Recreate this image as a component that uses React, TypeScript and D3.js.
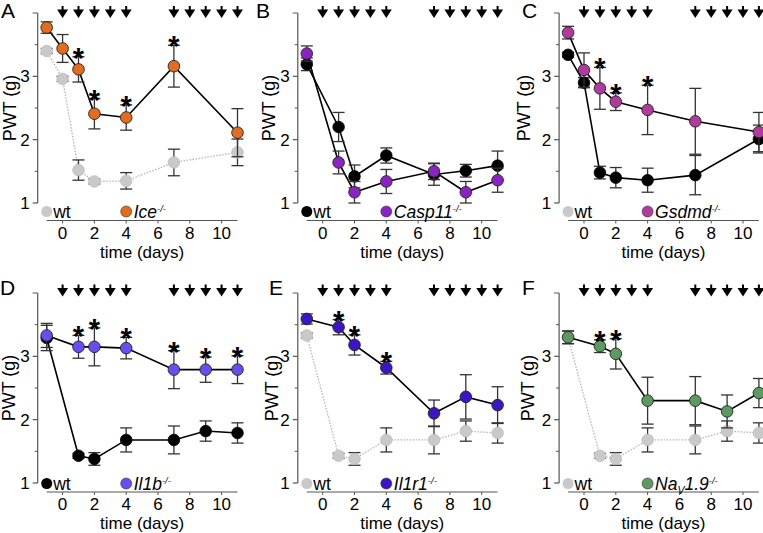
import React from 'react';
import * as d3 from 'd3';

const arrowDays = [0, 1, 2, 3, 4, 7, 8, 9, 10, 11];
const xTicks = [0, 2, 4, 6, 8, 10];
const yTicks = [1, 2, 3];
const yMinorTicks = [1.5, 2.5, 3.5, 4];

// Panel A
const daysA = [-1, 0, 1, 2, 4, 7, 11];
const wtA = [3.40, 2.96, 1.52, 1.34, 1.35, 1.64, 1.80];
const wtA_sem = [0.04, 0.04, 0.16, 0.04, 0.13, 0.21, 0.21];
const iceA = [3.77, 3.44, 3.11, 2.41, 2.35, 3.16, 2.11];
const iceA_sem = [0.09, 0.22, 0.20, 0.24, 0.20, 0.33, 0.38];
const starsA = [1, 2, 4, 7];

// Panel B
const daysB = [-1, 1, 2, 4, 7, 9, 11];
const wtB = [3.19, 2.20, 1.42, 1.75, 1.45, 1.51, 1.59];
const wtB_sem = [0.10, 0.23, 0.18, 0.12, 0.17, 0.10, 0.23];
const casp11B = [3.36, 1.64, 1.17, 1.34, 1.50, 1.17, 1.36];
const casp11B_sem = [0.12, 0.18, 0.17, 0.19, 0.13, 0.17, 0.19];
const starsB: number[] = [];

// Panel C
const daysC = [-1, 0, 1, 2, 4, 7, 11];
const wtC = [3.34, 2.90, 1.48, 1.40, 1.36, 1.44, 2.01];
const wtC_sem = [0.04, 0.08, 0.10, 0.16, 0.19, 0.31, 0.22];
const gsdmdC = [3.69, 3.10, 2.81, 2.60, 2.47, 2.29, 2.12];
const gsdmdC_sem = [0.10, 0.27, 0.33, 0.14, 0.39, 0.52, 0.31];
const starsC = [1, 2, 4];

// Panel D
const daysD = [-1, 1, 2, 4, 7, 9, 11];
const wtD = [3.29, 1.43, 1.38, 1.68, 1.68, 1.82, 1.79];
const wtD_sem = [0.20, 0.04, 0.10, 0.19, 0.22, 0.16, 0.16];
const il1bD = [3.33, 3.15, 3.15, 3.13, 2.79, 2.79, 2.79];
const il1bD_sem = [0.19, 0.18, 0.30, 0.17, 0.30, 0.20, 0.22];
const starsD = [1, 2, 4, 7, 9, 11];

// Panel E
const daysE = [-1, 1, 2, 4, 7, 9, 11];
const wtE = [3.33, 1.43, 1.38, 1.68, 1.68, 1.82, 1.79];
const wtE_sem = [0.04, 0.04, 0.10, 0.19, 0.22, 0.16, 0.16];
const il1r1E = [3.59, 3.46, 3.18, 2.82, 2.10, 2.36, 2.23];
const il1r1E_sem = [0.08, 0.12, 0.16, 0.10, 0.21, 0.35, 0.29];
const starsE = [1, 2, 4];

// Panel F
const daysF = [-1, 1, 2, 4, 7, 9, 11];
const wtF = [3.30, 1.43, 1.38, 1.68, 1.68, 1.82, 1.79];
const wtF_sem = [0.10, 0.04, 0.10, 0.19, 0.22, 0.16, 0.16];
const nav19F = [3.30, 3.16, 3.04, 2.30, 2.30, 2.13, 2.42];
const nav19F_sem = [0.10, 0.10, 0.24, 0.37, 0.38, 0.26, 0.23];
const starsF = [1, 2];

const FONT = "'Liberation Sans', Arial, Helvetica, sans-serif";
const GRAY = '#c9c9c9';

type Panel = {
  letter: string; col: number; row: number;
  days: number[]; wt: number[]; wtSem: number[]; ko: number[]; koSem: number[];
  stars: number[]; koColor: string; wtGray: boolean; wtLegendGray: boolean;
  koLabel: string;
};

const panels: Panel[] = [
  { letter: 'A', col: 0, row: 0, days: daysA, wt: wtA, wtSem: wtA_sem, ko: iceA, koSem: iceA_sem, stars: starsA, koColor: '#e36c1e', wtGray: true, wtLegendGray: true, koLabel: 'Ice' },
  { letter: 'B', col: 1, row: 0, days: daysB, wt: wtB, wtSem: wtB_sem, ko: casp11B, koSem: casp11B_sem, stars: starsB, koColor: '#8a22c4', wtGray: false, wtLegendGray: false, koLabel: 'Casp11' },
  { letter: 'C', col: 2, row: 0, days: daysC, wt: wtC, wtSem: wtC_sem, ko: gsdmdC, koSem: gsdmdC_sem, stars: starsC, koColor: '#b23a9f', wtGray: false, wtLegendGray: true, koLabel: 'Gsdmd' },
  { letter: 'D', col: 0, row: 1, days: daysD, wt: wtD, wtSem: wtD_sem, ko: il1bD, koSem: il1bD_sem, stars: starsD, koColor: '#6a4df0', wtGray: false, wtLegendGray: false, koLabel: 'Il1b' },
  { letter: 'E', col: 1, row: 1, days: daysE, wt: wtE, wtSem: wtE_sem, ko: il1r1E, koSem: il1r1E_sem, stars: starsE, koColor: '#3b15c6', wtGray: true, wtLegendGray: true, koLabel: 'Il1r1' },
  { letter: 'F', col: 2, row: 1, days: daysF, wt: wtF, wtSem: wtF_sem, ko: nav19F, koSem: nav19F_sem, stars: starsF, koColor: '#5b9a60', wtGray: true, wtLegendGray: true, koLabel: 'Nav' },
];

const colDay0 = [62.6, 322.7, 584];
const perDay = 15.9;
const rowGeom = [
  { yTop: 13, yBot: 203, axisY: 220.5, legendY: 211.5, tickLabelY: 233, titleY: 252, letterY: 18, arrowY: 6 },
  { yTop: 293, yBot: 483, axisY: 492, legendY: 483.5, tickLabelY: 504.5, titleY: 523, letterY: 295, arrowY: 284.5 },
];
const letterX = [[1, 256, 522], [0, 269, 522]];
const ylabX = [[10, 269, 524], [9, 272, 528]];

function KoLabel({ label, x, y }: { label: string; x: number; y: number }) {
  if (label === 'Nav') {
    return (
      <text x={x} y={y} fontFamily={FONT} fontSize={17.5} fontStyle="italic" dy="0.35em">
        Na<tspan fontSize={10.5} dy={4}>V</tspan><tspan dy={-4}>1.9</tspan><tspan fontSize={9.5} dy={-6}>-/-</tspan>
      </text>
    );
  }
  return (
    <text x={x} y={y} fontFamily={FONT} fontSize={17.5} fontStyle="italic" dy="0.35em">
      {label}<tspan fontSize={9.5} dy={-6}>-/-</tspan>
    </text>
  );
}

function PanelView({ p }: { p: Panel }) {
  const g = rowGeom[p.row];
  const d0 = colDay0[p.col];
  const x = d3.scaleLinear().domain([-1, 11]).range([d0 - perDay, d0 + 11 * perDay]);
  const y = d3.scaleLinear().domain([1, 4]).range([g.yBot, g.yTop]);
  const axX = x(-1) - 9;
  const line = d3.line<number>().x((_, i) => x(p.days[i])).y((v) => y(v));
  const wtFill = p.wtGray ? GRAY : '#000';
  const wtLine = p.wtGray ? '#b5b5b5' : '#000';
  const errColor = '#333';
  const R = 5.8;

  const errBars = (vals: number[], sems: number[], key: string) =>
    vals.map((v, i) => {
      const cx = x(p.days[i]);
      const y1 = y(v + sems[i]);
      const y2 = y(v - sems[i]);
      return (
        <g key={key + i} stroke={errColor} strokeWidth={1.3}>
          <line x1={cx} x2={cx} y1={y1} y2={y2} />
          <line x1={cx - 6} x2={cx + 6} y1={y1} y2={y1} />
          <line x1={cx - 6} x2={cx + 6} y1={y2} y2={y2} />
        </g>
      );
    });

  return (
    <g>
      <text x={letterX[p.row][p.col]} y={g.letterY} fontFamily={FONT} fontSize={21}>{p.letter}</text>
      {arrowDays.map((d) => {
        const ax = x(d);
        const ay = g.arrowY;
        return (
          <g key={'ar' + d}>
            <line x1={ax} x2={ax} y1={ay} y2={ay + 5} stroke="#000" strokeWidth={2} />
            <path d={`M${ax - 5.5},${ay + 3.5}L${ax + 5.5},${ay + 3.5}L${ax},${ay + 12}Z`} fill="#000" />
          </g>
        );
      })}
      {/* y axis */}
      <line x1={axX} x2={axX} y1={y(1)} y2={y(4)} stroke="#555" strokeWidth={1.2} />
      {yTicks.map((t) => (
        <g key={'yt' + t}>
          <line x1={axX - 5} x2={axX} y1={y(t)} y2={y(t)} stroke="#555" strokeWidth={1.2} />
          <text x={axX - 8} y={y(t)} dy="0.35em" textAnchor="end" fontFamily={FONT} fontSize={17}>{t}</text>
        </g>
      ))}
      {yMinorTicks.map((t) => (
        <line key={'ym' + t} x1={axX - (t === 4 ? 5 : 3)} x2={axX} y1={y(t)} y2={y(t)} stroke="#555" strokeWidth={1} />
      ))}
      <text transform={`translate(${ylabX[p.row][p.col]},${(g.yTop + g.yBot) / 2}) rotate(-90)`} textAnchor="middle" dy="0.35em" fontFamily={FONT} fontSize={18}>PWT (g)</text>
      {/* x axis */}
      <line x1={x(-1)} x2={x(11)} y1={g.axisY} y2={g.axisY} stroke="#555" strokeWidth={1.2} />
      {xTicks.map((t) => (
        <g key={'xt' + t}>
          <line x1={x(t)} x2={x(t)} y1={g.axisY} y2={g.axisY + 3} stroke="#555" strokeWidth={1} />
          <text x={x(t)} y={g.tickLabelY} dy="0.35em" textAnchor="middle" fontFamily={FONT} fontSize={17}>{t}</text>
        </g>
      ))}
      <text x={(x(-1) + x(11)) / 2} y={g.titleY} dy="0.35em" textAnchor="middle" fontFamily={FONT} fontSize={17}>time (days)</text>
      {/* legend */}
      <circle cx={x(-1)} cy={g.legendY} r={5.5} fill={p.wtLegendGray ? GRAY : '#000'} />
      <text x={x(-1) + 6.5} y={g.legendY} dy="0.35em" fontFamily={FONT} fontSize={17.5}>wt</text>
      <circle cx={x(4)} cy={g.legendY} r={5.5} fill={p.koColor} stroke="#333" strokeWidth={0.6} />
      <KoLabel label={p.koLabel} x={x(4) + 7.5} y={g.legendY} />
      {/* wt series */}
      <path d={line(p.wt) || ''} fill="none" stroke={wtLine} strokeWidth={p.wtGray ? 1.3 : 1.6} strokeDasharray={p.wtGray ? '1.5,1.5' : undefined} />
      {errBars(p.wt, p.wtSem, 'we')}
      {p.wt.map((v, i) => (
        <circle key={'wc' + i} cx={x(p.days[i])} cy={y(v)} r={R} fill={wtFill} stroke={p.wtGray ? '#bdbdbd' : '#000'} strokeWidth={0.8} />
      ))}
      {/* ko series */}
      <path d={line(p.ko) || ''} fill="none" stroke="#000" strokeWidth={1.6} />
      {errBars(p.ko, p.koSem, 'ke')}
      {p.ko.map((v, i) => (
        <circle key={'kc' + i} cx={x(p.days[i])} cy={y(v)} r={R} fill={p.koColor} stroke="#222" strokeWidth={0.9} />
      ))}
      {p.stars.map((d) => {
        const i = p.days.indexOf(d);
        const top = y(p.ko[i] + p.koSem[i]);
        return (
          <text key={'st' + d} x={x(d)} y={top - 5 + 16} textAnchor="middle" fontFamily={FONT} fontSize={29} fontWeight="bold">*</text>
        );
      })}
    </g>
  );
}

export default function App() {
  return (
    <div style={{ position: 'absolute', left: 0, top: 0 }}>
      <svg width={763} height={533} viewBox="0 0 763 533" style={{ display: 'block', background: '#fff' }}>
        {panels.map((p) => (
          <PanelView key={p.letter} p={p} />
        ))}
      </svg>
    </div>
  );
}
